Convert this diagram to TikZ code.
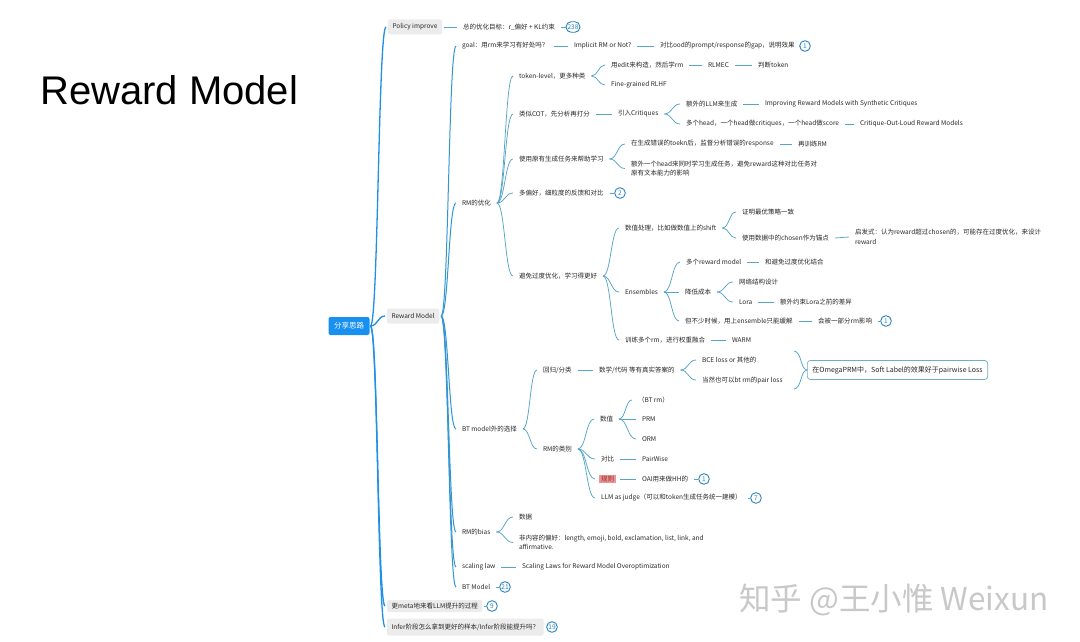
\documentclass[tikz,border=0pt]{standalone}
\usepackage{fontspec}
\setmainfont{Noto Sans CJK SC}
\newfontfamily\titlefont{Liberation Sans}
\usetikzlibrary{calc}
\definecolor{txt}{RGB}{40,40,40}
\definecolor{l1fill}{RGB}{236,236,236}
\definecolor{rootblue}{RGB}{24,144,240}
\definecolor{e1col}{RGB}{30,144,230}
\definecolor{e2col}{RGB}{50,150,210}
\definecolor{e3col}{RGB}{85,165,200}
\definecolor{bcol}{RGB}{40,130,190}
\definecolor{rulefill}{RGB}{232,150,150}
\definecolor{ruletext}{RGB}{160,40,40}
\definecolor{sumcol}{RGB}{110,175,195}
\definecolor{wmark}{RGB}{200,200,200}
\tikzset{
  t/.style={anchor=west, xshift=-6pt, inner xsep=2pt, outer xsep=4pt, inner ysep=1pt, outer ysep=0pt,
    font=\fontsize{6.5}{9.5}\selectfont, text=txt, align=left},
  l1/.style={anchor=west, xshift=-2pt, fill=l1fill, rounded corners=2pt, inner xsep=4.5pt, inner ysep=2pt,
    minimum height=15pt, outer sep=2pt, font=\fontsize{6.5}{8}\selectfont, text=txt},
  rootbox/.style={fill=rootblue, rounded corners=2pt, minimum width=41pt, minimum height=18pt,
    text=white, font=\fontsize{7.5}{9}\selectfont, outer sep=1pt},
  badge/.style={draw=bcol, line width=0.9pt, fill=white, rounded corners=5pt, minimum height=10.5pt,
    minimum width=10.5pt, inner xsep=1.5pt, inner ysep=0pt, text=bcol, font=\fontsize{6.5}{7}\selectfont},
  rulehl/.style={fill=rulefill, text=ruletext},
  sumbox/.style={anchor=west, draw=sumcol, line width=0.7pt, rounded corners=3pt, fill=white,
    inner xsep=5pt, minimum height=19pt, font=\fontsize{7}{9}\selectfont, text=txt},
  e1/.style={draw=e1col, line width=1.3pt},
  e2/.style={draw=e2col, line width=1pt},
  e3/.style={draw=e3col, line width=0.75pt},
}
\newcommand\lnk[3][e3]{\draw[#1] let \p1=(#2.east), \p2=(#3.west), \n1={0.5*\x1+0.5*\x2} in
  (\p1) .. controls ({\n1*1pt},\y1) and ({\n1*1pt},\y2) .. (\p2);}
\begin{document}
\begin{tikzpicture}[x=1pt,y=-1pt]
\useasboundingbox[fill=white] (0,0) rectangle (1080,642);

\node[anchor=west, inner sep=0pt, font=\titlefont\fontsize{40}{42}\selectfont] (title) at (40,90) {Reward Model};
\node[text=wmark, font=\fontsize{31.5}{33}\selectfont, inner sep=0pt] (wm) at (894,600) {知乎 @王小惟 Weixun};

\node[rootbox] (root) at (349,326) {分享思路};
\node[l1] (pi) at (388,27) {Policy improve};
\node[l1] (rm) at (387,316) {Reward Model};
\node[l1, minimum height=12pt] (meta) at (387,606) {更meta地来看LLM提升的过程};
\node[l1, minimum height=17pt] (inf) at (387,627) {Infer阶段怎么拿到更好的样本/Infer阶段能提升吗？};

\node[t] (opt) at (463,27) {总的优化目标：r\_偏好 + KL约束};
\node[badge] (b238) at (573,27) {238};

\node[t] (goal) at (462,46) {goal：用rm来学习有好处吗？};
\node[t] (impl) at (574,46) {Implicit RM or Not?};
\node[t] (ood) at (660,46) {对比ood的prompt/response的gap，说明效果};
\node[badge] (b1a) at (805,46) {1};

\node[t] (rmopt) at (462,203) {RM的优化};
\node[t] (tok) at (519,76) {token-level，更多种类};
\node[t] (edit) at (611,65) {用edit来构造，然后学rm};
\node[t] (rlmec) at (708,65) {RLMEC};
\node[t] (judget) at (758,65) {判断token};
\node[t] (fine) at (611,85) {Fine-grained RLHF};
\node[t] (cot) at (519,114) {类似COT，先分析再打分};
\node[t] (crit) at (618,114) {引入Critiques};
\node[t] (extra) at (686,104) {额外的LLM来生成};
\node[t] (impr) at (765,104) {Improving Reward Models with Synthetic Critiques};
\node[t] (heads) at (686,124) {多个head，一个head做critiques，一个head做score};
\node[t] (col) at (860,124) {Critique-Out-Loud Reward Models};
\node[t] (gen) at (519,159) {使用原有生成任务来帮助学习};
\node[t] (gen1) at (631,144) {在生成错误的toekn后，监督分析错误的response};
\node[t] (retrain) at (798,144) {再训练RM};
\node[t] (gen2) at (631,168.5) {额外一个head来同时学习生成任务，避免reward这种对比任务对\\原有文本能力的影响};
\node[t] (multi) at (519,193) {多偏好，细粒度的反馈和对比};
\node[badge] (b2) at (620,193) {2};
\node[t] (avoid) at (519,276) {避免过度优化，学习得更好};
\node[t] (shift) at (625,228) {数值处理，比如做数值上的shift};
\node[t] (prove) at (742,212) {证明最优策略一致};
\node[t] (anch) at (742,238) {使用数据中的chosen作为锚点};
\node[t] (heur) at (855,237) {启发式：认为reward超过chosen的，可能存在过度优化，来设计\\reward};
\node[t] (ens) at (625,292) {Ensembles};
\node[t] (mrm) at (686,262) {多个reward model};
\node[t] (comb) at (765,262) {和避免过度优化结合};
\node[t] (cost) at (685,292) {降低成本};
\node[t] (net) at (739,282) {网络结构设计};
\node[t] (lora) at (739,302) {Lora};
\node[t] (lorad) at (780,302) {额外约束Lora之前的差异};
\node[t] (but) at (685,321) {但不少时候，用上ensemble只能缓解};
\node[t] (aff) at (818,321) {会被一部分rm影响};
\node[badge] (b1b) at (886,321) {1};
\node[t] (wtrain) at (625,340) {训练多个rm，进行权重融合};
\node[t] (warm) at (732,340) {WARM};

\node[t] (btalt) at (462,429) {BT model外的选择};
\node[t] (reg) at (543,370) {回归/分类};
\node[t] (math) at (599,370) {数学/代码 等有真实答案的};
\node[t] (bce) at (702,360) {BCE loss or 其他的};
\node[t] (pairl) at (702,380) {当然也可以bt rm的pair loss};
\node[sumbox] (sum) at (807,370) {在OmegaPRM中，Soft Label的效果好于pairwise Loss};
\coordinate (bt) at (794,351);
\coordinate (bb) at (794,389);
\node[t] (cat) at (543,449) {RM的类别};
\node[t] (num) at (600,419) {数值};
\node[t] (btrm) at (638,400) {（BT rm）};
\node[t] (prm) at (642,419) {PRM};
\node[t] (orm) at (642,439) {ORM};
\node[t] (cmp) at (601,459) {对比};
\node[t] (pw) at (642,459) {PairWise};
\node[t, rulehl] (rule) at (601,479) {规则};
\node[t] (oai) at (642,479) {OAI用来做HH的};
\node[badge] (b1c) at (704,479) {1};
\node[t] (llmj) at (601,498) {LLM as judge（可以和token生成任务统一建模）};
\node[badge] (b7) at (756,498) {7};

\node[t] (bias) at (462,532) {RM的bias};
\node[t] (data) at (519,517) {数据};
\node[t] (nonc) at (519,542.5) {非内容的偏好：length, emoji, bold, exclamation, list, link, and\\affirmative.};
\node[t] (scal) at (462,567) {scaling law};
\node[t] (slaw) at (522,567) {Scaling Laws for Reward Model Overoptimization};
\node[t] (btm) at (462,587) {BT Model};
\node[badge] (b21) at (505,587) {21};
\node[badge] (b9) at (492,606) {9};
\node[badge] (b19) at (552,627) {19};

% root level
\lnk[e1]{root}{pi}
\lnk[e1]{root}{rm}
\lnk[e1]{root}{meta}
\lnk[e1]{root}{inf}
\lnk{pi}{opt}
\lnk{opt}{b238}
\lnk{meta}{b9}
\lnk{inf}{b19}
% reward model
\lnk[e2]{rm}{goal}
\lnk[e2]{rm}{rmopt}
\lnk[e2]{rm}{btalt}
\lnk[e2]{rm}{bias}
\lnk[e2]{rm}{scal}
\lnk[e2]{rm}{btm}
\lnk{goal}{impl}
\lnk{impl}{ood}
\lnk{ood}{b1a}
% RM optimisation
\lnk{rmopt}{tok}
\lnk{rmopt}{cot}
\lnk{rmopt}{gen}
\lnk{rmopt}{multi}
\lnk{rmopt}{avoid}
\lnk{tok}{edit}
\lnk{tok}{fine}
\lnk{edit}{rlmec}
\lnk{rlmec}{judget}
\lnk{cot}{crit}
\lnk{crit}{extra}
\lnk{crit}{heads}
\lnk{extra}{impr}
\lnk{heads}{col}
\lnk{gen}{gen1}
\lnk{gen}{gen2}
\lnk{gen1}{retrain}
\lnk{multi}{b2}
\lnk{avoid}{shift}
\lnk{avoid}{ens}
\lnk{avoid}{wtrain}
\lnk{shift}{prove}
\lnk{shift}{anch}
\lnk{anch}{heur}
\lnk{ens}{mrm}
\lnk{ens}{cost}
\lnk{ens}{but}
\lnk{mrm}{comb}
\lnk{cost}{net}
\lnk{cost}{lora}
\lnk{lora}{lorad}
\lnk{but}{aff}
\lnk{aff}{b1b}
\lnk{wtrain}{warm}
% BT alternatives
\lnk{btalt}{reg}
\lnk{btalt}{cat}
\lnk{reg}{math}
\lnk{math}{bce}
\lnk{math}{pairl}
\draw[e3] (bt) .. controls (802,352) and (800,369) .. (sum.west);
\draw[e3] (bb) .. controls (802,388) and (800,371) .. (sum.west);
\lnk{cat}{num}
\lnk{cat}{cmp}
\lnk{cat}{rule}
\lnk{cat}{llmj}
\lnk{num}{btrm}
\lnk{num}{prm}
\lnk{num}{orm}
\lnk{cmp}{pw}
\lnk{rule}{oai}
\lnk{oai}{b1c}
\lnk{llmj}{b7}
% bias, scaling, BT model
\lnk{bias}{data}
\lnk{bias}{nonc}
\lnk{scal}{slaw}
\lnk{btm}{b21}
\end{tikzpicture}
\end{document}
